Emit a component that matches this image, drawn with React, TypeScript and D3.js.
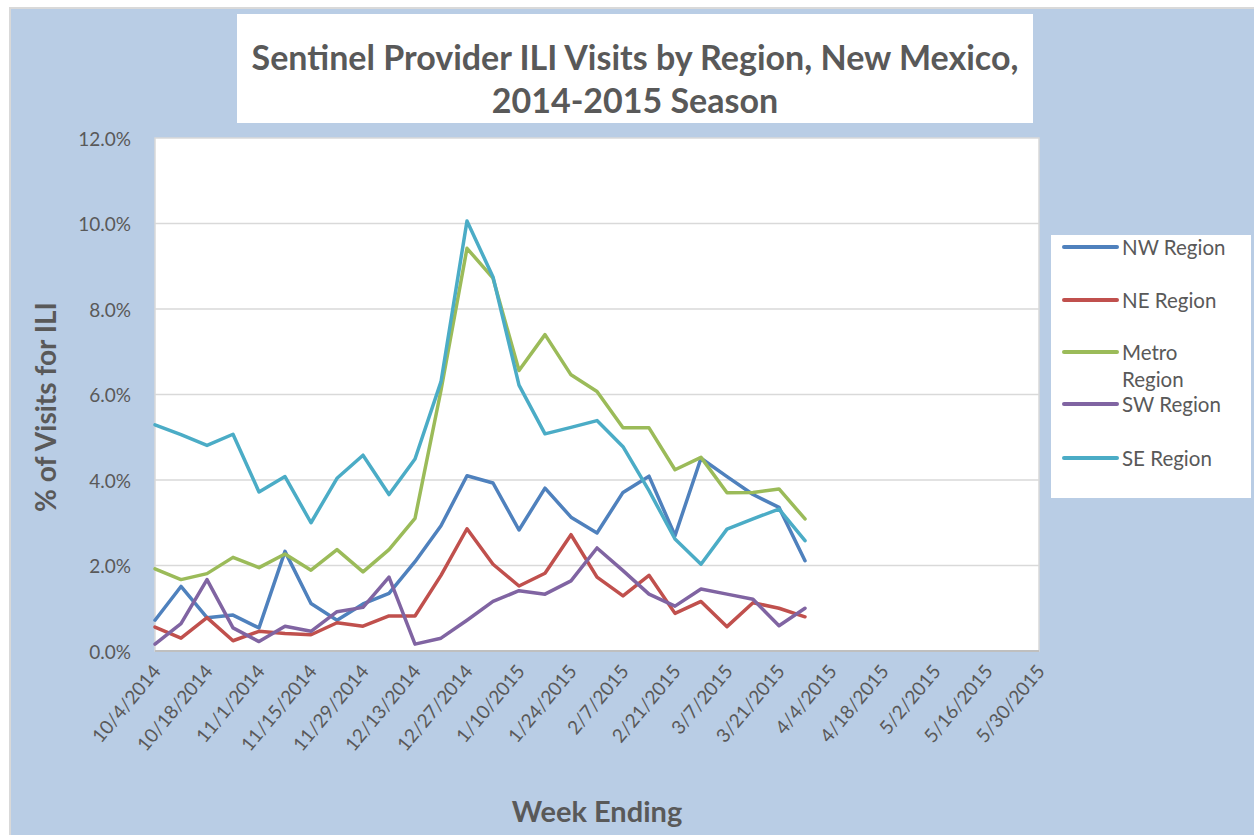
import React from "react";
import { scaleLinear, scalePoint, line } from "d3";

const weeks = [
  "10/4/2014", "10/11/2014", "10/18/2014", "10/25/2014", "11/1/2014", "11/8/2014",
  "11/15/2014", "11/22/2014", "11/29/2014", "12/6/2014", "12/13/2014", "12/20/2014",
  "12/27/2014", "1/3/2015", "1/10/2015", "1/17/2015", "1/24/2015", "1/31/2015",
  "2/7/2015", "2/14/2015", "2/21/2015", "2/28/2015", "3/7/2015", "3/14/2015",
  "3/21/2015", "3/28/2015", "4/4/2015", "4/11/2015", "4/18/2015", "4/25/2015",
  "5/2/2015", "5/9/2015", "5/16/2015", "5/23/2015", "5/30/2015",
];

// % of visits for ILI, one value per week (data stops at 3/28/2015)
const nwRegion = [0.72, 1.51, 0.78, 0.84, 0.54, 2.33, 1.11, 0.72, 1.1, 1.35, 2.09, 2.93, 4.1, 3.93, 2.83, 3.81, 3.13, 2.76, 3.71, 4.09, 2.7, 4.51, 4.08, 3.66, 3.36, 2.11];
const neRegion = [0.56, 0.3, 0.78, 0.24, 0.46, 0.41, 0.38, 0.66, 0.58, 0.82, 0.82, 1.77, 2.86, 2.03, 1.52, 1.82, 2.72, 1.73, 1.29, 1.77, 0.88, 1.16, 0.57, 1.13, 1.0, 0.8];
const metroRegion = [1.92, 1.67, 1.81, 2.19, 1.95, 2.27, 1.89, 2.37, 1.85, 2.37, 3.1, 6.1, 9.42, 8.72, 6.56, 7.4, 6.46, 6.07, 5.22, 5.22, 4.24, 4.53, 3.7, 3.71, 3.79, 3.09];
const swRegion = [0.16, 0.64, 1.67, 0.54, 0.22, 0.58, 0.46, 0.92, 1.02, 1.73, 0.16, 0.3, 0.72, 1.16, 1.41, 1.33, 1.64, 2.41, 1.88, 1.33, 1.05, 1.45, 1.33, 1.21, 0.59, 1.0];
const seRegion = [5.29, 5.06, 4.81, 5.07, 3.72, 4.08, 3.0, 4.04, 4.58, 3.66, 4.49, 6.3, 10.06, 8.75, 6.22, 5.08, 5.23, 5.39, 4.78, 3.75, 2.62, 2.03, 2.85, 3.09, 3.32, 2.58];

const yTicks = [0, 2, 4, 6, 8, 10, 12];

const series = [
  { name: ["NW Region"], values: nwRegion, color: "#4f81bd" },
  { name: ["NE Region"], values: neRegion, color: "#c0504d" },
  { name: ["Metro", "Region"], values: metroRegion, color: "#9bbb59" },
  { name: ["SW Region"], values: swRegion, color: "#8064a2" },
  { name: ["SE Region"], values: seRegion, color: "#4bacc6" },
];

const W = 1254;
const H = 835;
const plot = { left: 155, right: 1039, top: 138, bottom: 651 };
const font = "Lato, 'Open Sans', sans-serif";
const textColor = "#595959";

export default function App() {
  const x = scalePoint<string>().domain(weeks).range([plot.left, plot.right]);
  const y = scaleLinear().domain([0, 12]).range([plot.bottom, plot.top]);

  const lineGen = line<number>()
    .x((_, i) => x(weeks[i]) as number)
    .y((d) => y(d));

  const legendRowY = [247, 300, 352, 404, 458];

  return (
    <svg
      width={W}
      height={H}
      style={{ position: "absolute", left: 0, top: 0, display: "block" }}
      fontFamily={font}
    >
      <rect x={0} y={0} width={W} height={H} fill="#ffffff" />
      {/* chart area */}
      <rect x={10} y={8} width={W} height={H} fill="#b9cde5" stroke="#d9d9d9" strokeWidth={2} />

      {/* title */}
      <rect x={237} y={14} width={796} height={109} fill="#ffffff" />
      <text x={635} y={56} textAnchor="middle" dominantBaseline="central" fontSize={34} fontWeight="bold" fill={textColor}>
        Sentinel Provider ILI Visits by Region, New Mexico,
      </text>
      <text x={635} y={99} textAnchor="middle" dominantBaseline="central" fontSize={34} fontWeight="bold" fill={textColor}>
        2014-2015 Season
      </text>

      {/* plot area */}
      <rect
        x={plot.left}
        y={plot.top}
        width={plot.right - plot.left}
        height={plot.bottom - plot.top}
        fill="#ffffff"
        stroke="#d9d9d9"
        strokeWidth={1.5}
      />
      {yTicks.map((t) => (
        <g key={t}>
          {t > 0 && t < 12 && (
            <line x1={plot.left} x2={plot.right} y1={y(t)} y2={y(t)} stroke="#d9d9d9" strokeWidth={1.5} />
          )}
          <text x={131} y={y(t)} textAnchor="end" dominantBaseline="central" fontSize={19} fill={textColor}>
            {t.toFixed(1)}%
          </text>
        </g>
      ))}
      <line x1={plot.left} x2={plot.right} y1={plot.bottom} y2={plot.bottom} stroke="#bfbfbf" strokeWidth={2} />

      {/* x labels */}
      {weeks.map((w, i) =>
        i % 2 === 0 ? (
          <text
            key={w}
            transform={`translate(${(x(w) as number) + 1},${667}) rotate(-50)`}
            textAnchor="end"
            dominantBaseline="central"
            fontSize={19}
            fill={textColor}
          >
            {w}
          </text>
        ) : null
      )}

      {/* series */}
      {series.map((s) => (
        <path
          key={s.name.join(" ")}
          d={lineGen(s.values) || ""}
          fill="none"
          stroke={s.color}
          strokeWidth={3.5}
          strokeLinejoin="round"
          strokeLinecap="round"
        />
      ))}

      {/* axis titles */}
      <text x={597} y={810} textAnchor="middle" dominantBaseline="central" fontSize={29} fontWeight="bold" fill={textColor}>
        Week Ending
      </text>
      <text
        transform="translate(45,407) rotate(-90)"
        textAnchor="middle"
        dominantBaseline="central"
        fontSize={28}
        fontWeight="bold"
        fill={textColor}
      >
        % of Visits for ILI
      </text>

      {/* legend */}
      <rect x={1051} y={235} width={200} height={263} fill="#ffffff" />
      {series.map((s, i) => (
        <g key={s.name.join(" ")}>
          <line x1={1064} x2={1117} y1={legendRowY[i]} y2={legendRowY[i]} stroke={s.color} strokeWidth={4} strokeLinecap="round" />
          {s.name.map((n, j) => (
            <text key={n} x={1122} y={legendRowY[i] + j * 27} dominantBaseline="central" fontSize={20.5} fill={textColor}>
              {n}
            </text>
          ))}
        </g>
      ))}
    </svg>
  );
}
